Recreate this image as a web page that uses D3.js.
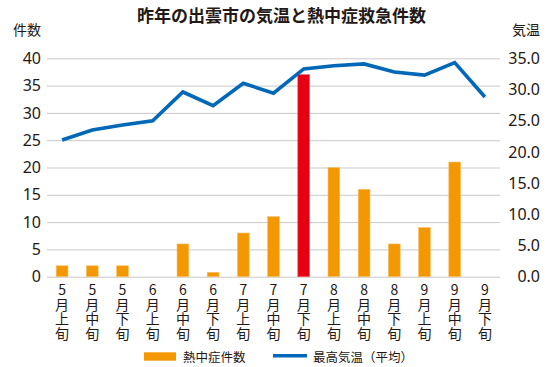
<!DOCTYPE html>
<html><head><meta charset="utf-8">
<script src="https://cdn.jsdelivr.net/npm/d3@7"></script>
<style>
html,body{margin:0;padding:0;background:#fff;}
svg{display:block;font-family:"Noto Sans","Noto Sans CJK JP",sans-serif;}
.jp{font-family:"Noto Sans CJK JP","Noto Sans",sans-serif;}
.vt{writing-mode:vertical-rl;text-orientation:upright;}
</style></head>
<body><svg id="c" width="557" height="367"></svg>
<script>
const categories = ["5月上旬","5月中旬","5月下旬","6月上旬","6月中旬","6月下旬","7月上旬","7月中旬","7月下旬","8月上旬","8月中旬","8月下旬","9月上旬","9月中旬","9月下旬"];
const cases = [2,2,2,0,6,0.8,8,11,37,20,16,6,9,21,0];
const temps = [21.9,23.5,24.3,25.0,29.6,27.4,31.0,29.4,33.3,33.8,34.1,32.8,32.3,34.3,28.8];
const leftTicks = [0,5,10,15,20,25,30,35,40];
const rightTicks = [0,5,10,15,20,25,30,35];
const highlight = "7月下旬";
const title = "昨年の出雲市の気温と熱中症救急件数";

const svg = d3.select("#c");
const L = 47, R = 500, T = 58.3, B = 276.7;
const x = d3.scaleBand().domain(categories).range([L, R]).padding(0);
const yL = d3.scaleLinear().domain([0, 40]).range([B, T]);
const yR = d3.scaleLinear().domain([0, 35]).range([B, T]);

// grid
const grid = svg.append("g").attr("transform", `translate(${L},0)`)
  .call(d3.axisLeft(yL).tickValues(leftTicks).tickSize(-(R - L)).tickFormat(""));
grid.select(".domain").remove();
grid.selectAll("line").attr("stroke", "#c9c9c9").attr("stroke-width", 1);

// left axis labels
const ax = svg.append("g").attr("transform", `translate(${L - 6},0)`)
  .call(d3.axisLeft(yL).tickValues(leftTicks).tickSize(0).tickPadding(0));
ax.select(".domain").remove();
ax.selectAll("text").attr("font-size", 16).attr("fill", "#231815")
  .attr("font-family", "Noto Sans, sans-serif");

// right axis labels
const axr = svg.append("g").attr("transform", `translate(540,0)`)
  .call(d3.axisLeft(yR).tickValues(rightTicks).tickSize(0).tickPadding(0).tickFormat(d3.format(".1f")));
axr.select(".domain").remove();
axr.selectAll("text").attr("font-size", 16).attr("fill", "#231815")
  .attr("font-family", "Noto Sans, sans-serif");

// bars
const bw = x.bandwidth() * 0.39;
svg.append("g").selectAll("rect").data(categories).join("rect")
  .attr("x", (d) => x(d) + x.bandwidth() / 2 - bw / 2)
  .attr("y", (d, i) => yL(cases[i]))
  .attr("width", bw)
  .attr("height", (d, i) => B - yL(cases[i]))
  .attr("fill", (d) => d === highlight ? "#e60012" : "#f39800")
  .attr("stroke", (d) => d === highlight ? "#ee5a5a" : "#f7c06a")
  .attr("stroke-width", 0.6);

// line
const line = d3.line()
  .x((d, i) => x(categories[i]) + x.bandwidth() / 2)
  .y((d) => yR(d));
svg.append("path").datum(temps).attr("d", line)
  .attr("fill", "none").attr("stroke", "#0068b7").attr("stroke-width", 3.6)
  .attr("stroke-linejoin", "miter").attr("stroke-linecap", "butt");

// x labels (vertical writing)
svg.append("g").attr("class", "jp").selectAll("text").data(categories).join("text")
  .attr("class", "vt")
  .attr("x", (d) => x(d) + x.bandwidth() / 2)
  .attr("y", 283)
  .attr("font-size", 14)
  .attr("letter-spacing", 0.4)
  .attr("fill", "#231815")
  .text((d) => d);

// title
svg.append("text").attr("class", "jp").attr("x", 281.5).attr("y", 16).attr("dy", "0.35em")
  .attr("text-anchor", "middle").attr("font-size", 17).attr("font-weight", "bold")
  .attr("fill", "#231815").text(title);

// axis titles
svg.append("text").attr("class", "jp").attr("x", 13).attr("y", 30).attr("dy", "0.35em")
  .attr("font-size", 14).attr("fill", "#231815").text("件数");
svg.append("text").attr("class", "jp").attr("x", 540).attr("y", 30).attr("dy", "0.35em")
  .attr("text-anchor", "end").attr("font-size", 14).attr("fill", "#231815").text("気温");

// legend
const lg = svg.append("g").attr("class", "jp");
lg.append("rect").attr("x", 144).attr("y", 352.3).attr("width", 32).attr("height", 8.4).attr("fill", "#f39800");
lg.append("text").attr("x", 183).attr("y", 357.5).attr("dy", "0.35em").attr("font-size", 12.5)
  .attr("fill", "#231815").text("熱中症件数");
lg.append("line").attr("x1", 273).attr("x2", 307).attr("y1", 355.8).attr("y2", 355.8)
  .attr("stroke", "#0068b7").attr("stroke-width", 3.4);
lg.append("text").attr("x", 313).attr("y", 357.5).attr("dy", "0.35em").attr("font-size", 12.5)
  .attr("fill", "#231815").text("最高気温（平均）");
</script></body></html>
